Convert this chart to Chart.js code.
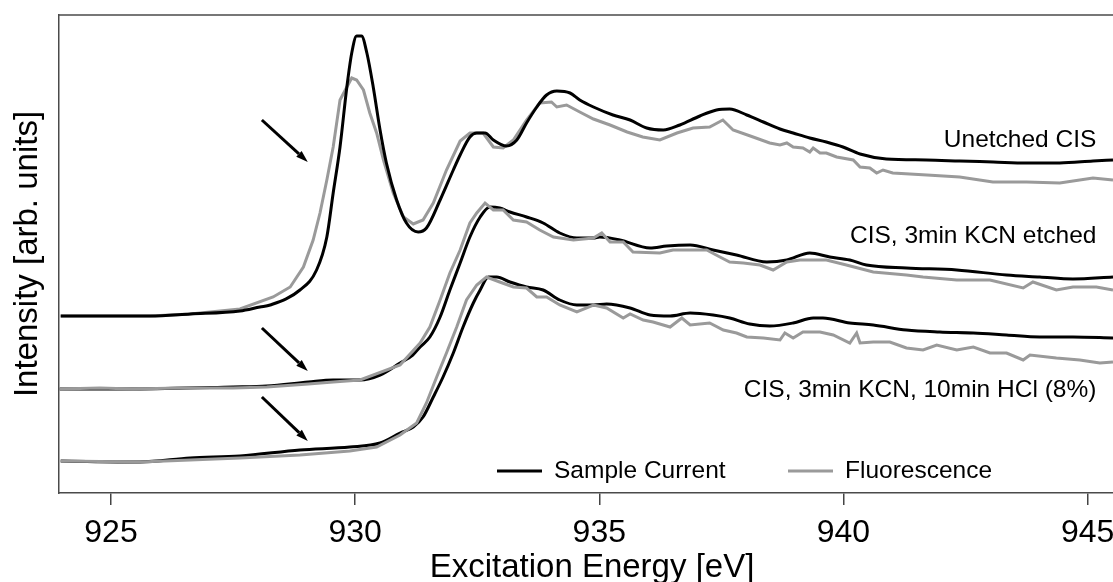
<!DOCTYPE html>
<html>
<head>
<meta charset="utf-8">
<title>Cu L3 edge XAS of CIS absorbers</title>
<script src="https://cdn.jsdelivr.net/npm/chart.js@4.4.1/dist/chart.umd.min.js"></script>
<style>
  html, body { margin: 0; padding: 0; background: #fff; }
  #wrap { width: 1113px; height: 582px; }
</style>
</head>
<body>
<div id="wrap"><canvas id="xasChart"></canvas></div>
<script>
// Excitation energy ticks (eV)
const energyTicks = [925, 930, 935, 940, 945];

// Unetched CIS - sample current
const unetchedScE = [923.97, 925.80, 926.62, 927.64, 928.05, 928.26, 928.87, 929.21, 929.42, 929.55,
  929.69, 929.83, 929.93, 930.03, 930.13, 930.24, 930.37, 930.51, 930.64, 930.85,
  931.05, 931.29, 931.46, 931.74, 932.01, 932.15, 932.35, 932.49, 932.66, 932.83,
  933.10, 933.31, 933.51, 933.72, 933.92, 934.13, 934.40, 934.60, 934.88, 935.28,
  935.63, 935.97, 936.31, 936.65, 937.06, 937.40, 937.67, 938.02, 938.36, 938.70,
  938.97, 939.31, 939.65, 939.99, 940.34, 940.88, 941.70, 942.38, 943.07, 943.75,
  944.43, 945.11, 945.52];
const unetchedSc = [1.77, 1.77, 1.79, 1.82, 1.86, 1.88, 2.03, 2.23, 2.56, 3.00,
  3.46, 4.06, 4.40, 4.57, 4.57, 4.40, 4.06, 3.63, 3.30, 2.93,
  2.70, 2.61, 2.65, 2.93, 3.23, 3.38, 3.56, 3.60, 3.60, 3.53,
  3.47, 3.53, 3.70, 3.86, 3.98, 4.02, 4.00, 3.93, 3.86, 3.78,
  3.73, 3.65, 3.63, 3.68, 3.77, 3.83, 3.84, 3.78, 3.71, 3.64,
  3.60, 3.55, 3.51, 3.46, 3.39, 3.34, 3.33, 3.32, 3.31, 3.30,
  3.30, 3.32, 3.33];

// Unetched CIS - fluorescence
const unetchedFlE = [923.97, 925.80, 926.62, 927.64, 928.32, 928.67, 928.94, 929.14, 929.28, 929.42,
  929.55, 929.69, 929.83, 929.93, 930.03, 930.17, 930.30, 930.44, 930.58, 930.78,
  930.99, 931.19, 931.39, 931.60, 931.87, 932.15, 932.35, 932.62, 932.83, 933.03,
  933.24, 933.51, 933.78, 934.02, 934.13, 934.33, 934.60, 934.88, 935.22, 935.57,
  935.89, 936.24, 936.59, 936.92, 937.26, 937.53, 937.74, 938.15, 938.49, 938.70,
  938.84, 938.97, 939.17, 939.31, 939.38, 939.52, 939.65, 939.86, 940.20, 940.34,
  940.54, 940.68, 940.81, 941.01, 941.71, 942.38, 943.06, 943.75, 944.43, 945.11,
  945.52];
const unetchedFl = [1.77, 1.77, 1.79, 1.84, 1.96, 2.06, 2.26, 2.53, 2.80, 3.13,
  3.46, 3.93, 4.06, 4.15, 4.13, 4.03, 3.80, 3.60, 3.33, 3.00,
  2.76, 2.69, 2.73, 2.90, 3.23, 3.52, 3.60, 3.60, 3.46, 3.45,
  3.53, 3.73, 3.90, 3.91, 3.86, 3.88, 3.81, 3.74, 3.68, 3.61,
  3.56, 3.53, 3.60, 3.65, 3.66, 3.73, 3.63, 3.56, 3.50, 3.48,
  3.50, 3.46, 3.45, 3.41, 3.45, 3.40, 3.40, 3.36, 3.33, 3.26,
  3.25, 3.20, 3.23, 3.20, 3.18, 3.16, 3.11, 3.11, 3.10, 3.15,
  3.13];

// CIS, 3min KCN etched - sample current
const kcnScE = [923.95, 925.45, 927.50, 928.19, 929.04, 929.55, 930.10, 930.51, 930.92, 931.18,
  931.33, 931.53, 931.74, 931.94, 932.15, 932.35, 932.56, 932.76, 932.96, 933.17,
  933.51, 933.85, 934.19, 934.54, 934.88, 935.01, 935.42, 936.04, 936.38, 936.86,
  937.33, 937.81, 938.43, 938.84, 939.31, 939.72, 940.13, 940.47, 941.29, 942.32,
  943.34, 944.02, 944.70, 945.52];
const kcnSc = [1.04, 1.04, 1.06, 1.07, 1.11, 1.13, 1.13, 1.18, 1.30, 1.38,
  1.46, 1.56, 1.76, 2.03, 2.30, 2.56, 2.76, 2.86, 2.85, 2.81,
  2.76, 2.70, 2.60, 2.55, 2.55, 2.56, 2.53, 2.45, 2.47, 2.48,
  2.43, 2.38, 2.31, 2.33, 2.40, 2.36, 2.33, 2.28, 2.25, 2.23,
  2.18, 2.16, 2.14, 2.16];

// CIS, 3min KCN etched - fluorescence
const kcnFlE = [923.95, 924.77, 925.45, 926.41, 927.50, 928.19, 929.04, 929.55, 930.10, 930.92,
  931.33, 931.53, 931.74, 931.94, 932.15, 932.35, 932.49, 932.66, 932.83, 933.03,
  933.24, 933.51, 933.78, 934.06, 934.47, 934.88, 935.05, 935.22, 935.49, 935.69,
  936.24, 936.51, 936.92, 937.20, 937.47, 937.67, 937.95, 938.29, 938.56, 938.84,
  939.11, 939.38, 939.65, 940.06, 940.61, 941.29, 941.63, 942.32, 943.00, 943.68,
  943.88, 944.36, 944.70, 945.18, 945.52];
const kcnFl = [1.04, 1.05, 1.04, 1.05, 1.05, 1.06, 1.09, 1.11, 1.13, 1.28,
  1.50, 1.66, 1.93, 2.20, 2.43, 2.70, 2.80, 2.90, 2.83, 2.83,
  2.73, 2.71, 2.63, 2.56, 2.53, 2.55, 2.60, 2.51, 2.51, 2.41,
  2.40, 2.43, 2.43, 2.43, 2.36, 2.31, 2.30, 2.28, 2.23, 2.31,
  2.33, 2.33, 2.33, 2.28, 2.21, 2.18, 2.16, 2.13, 2.13, 2.05,
  2.11, 2.03, 2.06, 2.06, 2.03];

// CIS, 3min KCN, 10min HCl (8%) - sample current
const hclScE = [923.97, 925.59, 926.62, 927.64, 928.87, 929.89, 930.51, 930.92, 931.19, 931.39,
  931.60, 931.80, 932.01, 932.21, 932.42, 932.56, 932.73, 932.90, 933.17, 933.51,
  933.85, 934.19, 934.54, 934.88, 935.15, 935.63, 936.04, 936.45, 936.86, 937.33,
  937.67, 938.08, 938.49, 938.97, 939.38, 939.58, 940.13, 940.61, 941.29, 941.97,
  942.66, 943.34, 944.02, 944.70, 945.52];
const hclSc = [0.32, 0.31, 0.35, 0.37, 0.43, 0.46, 0.50, 0.60, 0.66, 0.76,
  0.96, 1.16, 1.40, 1.66, 1.90, 2.03, 2.16, 2.16, 2.11, 2.06,
  2.03, 1.93, 1.88, 1.88, 1.89, 1.85, 1.78, 1.77, 1.80, 1.78,
  1.75, 1.69, 1.67, 1.70, 1.75, 1.75, 1.70, 1.68, 1.63, 1.61,
  1.60, 1.58, 1.56, 1.56, 1.55];

// CIS, 3min KCN, 10min HCl (8%) - fluorescence
const hclFlE = [923.97, 925.59, 926.62, 927.64, 928.87, 929.89, 930.44, 930.92, 931.26, 931.46,
  931.67, 931.87, 932.08, 932.28, 932.49, 932.69, 932.96, 933.24, 933.51, 933.72,
  933.92, 934.19, 934.54, 934.88, 935.15, 935.49, 935.63, 935.90, 936.10, 936.45,
  936.69, 936.86, 937.26, 937.54, 937.81, 938.02, 938.36, 938.70, 938.80, 938.97,
  939.17, 939.52, 939.79, 940.13, 940.27, 940.34, 940.61, 940.95, 941.29, 941.63,
  941.91, 942.32, 942.66, 943.00, 943.34, 943.68, 943.82, 944.36, 944.84, 945.25,
  945.52];
const hclFl = [0.32, 0.31, 0.33, 0.35, 0.38, 0.42, 0.46, 0.58, 0.70, 0.90,
  1.16, 1.40, 1.66, 1.93, 2.08, 2.16, 2.11, 2.06, 2.05, 1.96,
  1.96, 1.88, 1.81, 1.88, 1.85, 1.75, 1.79, 1.73, 1.71, 1.66,
  1.75, 1.68, 1.70, 1.63, 1.60, 1.56, 1.55, 1.53, 1.60, 1.55,
  1.61, 1.61, 1.58, 1.50, 1.60, 1.50, 1.51, 1.51, 1.45, 1.43,
  1.48, 1.43, 1.46, 1.40, 1.40, 1.33, 1.38, 1.35, 1.33, 1.30,
  1.31];

// sample names, written right-aligned above each pair of spectra
const sampleNames = ['Unetched CIS', 'CIS, 3min KCN etched', 'CIS, 3min KCN, 10min HCl (8%)'];
const sampleNameI = [3.46, 2.50, 0.96];
const sampleNameE = 945.18;

// arrows pointing at the pre-edge region
const arrowFromE = 928.09;
const arrowToE = 929.03;
const arrowFromI = [3.73, 1.65, 0.96];
const arrowToI = [3.31, 1.22, 0.52];

const FONT = '"Liberation Sans", Arial, Helvetica, sans-serif';
const SC_COLOR = '#000000';
const FL_COLOR = '#9a9a9a';
const FRAME_COLOR = '#4a4a4a';

const toPoints = (e, v) => e.map((x, i) => ({ x, y: v[i] }));

const scStyle = { borderColor: SC_COLOR, borderWidth: 3, cubicInterpolationMode: 'monotone' };
const flStyle = { borderColor: FL_COLOR, borderWidth: 3, tension: 0 };

const datasets = [
  { label: 'Sample Current', data: toPoints(unetchedScE, unetchedSc), order: 0, ...scStyle },
  { label: 'Fluorescence', data: toPoints(unetchedFlE, unetchedFl), order: 1, ...flStyle },
  { label: 'Sample Current', data: toPoints(kcnScE, kcnSc), order: 3, ...scStyle },
  { label: 'Fluorescence', data: toPoints(kcnFlE, kcnFl), order: 2, ...flStyle },
  { label: 'Sample Current', data: toPoints(hclScE, hclSc), order: 5, ...scStyle },
  { label: 'Fluorescence', data: toPoints(hclFlE, hclFl), order: 4, ...flStyle }
];

const drawArrow = (ctx, x0, y0, x1, y1) => {
  const ang = Math.atan2(y1 - y0, x1 - x0);
  const head = 12, half = 4;
  const bx = x1 - head * Math.cos(ang), by = y1 - head * Math.sin(ang);
  ctx.beginPath();
  ctx.moveTo(x0, y0);
  ctx.lineTo(bx, by);
  ctx.stroke();
  ctx.beginPath();
  ctx.moveTo(x1, y1);
  ctx.lineTo(bx + half * Math.sin(ang), by - half * Math.cos(ang));
  ctx.lineTo(bx - half * Math.sin(ang), by + half * Math.cos(ang));
  ctx.closePath();
  ctx.fill();
};

// frame top, arrows, sample names, legend and axis titles
const decorations = {
  id: 'decorations',
  afterDraw(chart) {
    const { ctx, chartArea: area, scales: { x, y } } = chart;
    ctx.save();

    ctx.strokeStyle = FRAME_COLOR;
    ctx.lineWidth = 1.5;
    ctx.beginPath();
    ctx.moveTo(area.left, area.top);
    ctx.lineTo(area.right, area.top);
    ctx.stroke();

    ctx.strokeStyle = '#000';
    ctx.fillStyle = '#000';
    ctx.lineWidth = 3;
    arrowFromI.forEach((i0, k) => {
      drawArrow(ctx, x.getPixelForValue(arrowFromE), y.getPixelForValue(i0),
        x.getPixelForValue(arrowToE), y.getPixelForValue(arrowToI[k]));
    });

    ctx.font = '24.5px ' + FONT;
    ctx.textAlign = 'right';
    ctx.textBaseline = 'alphabetic';
    sampleNames.forEach((name, k) => {
      ctx.fillText(name, x.getPixelForValue(sampleNameE), y.getPixelForValue(sampleNameI[k]));
    });

    // legend
    const legendY = area.bottom - 22;
    const entries = [
      { text: datasets[0].label, color: SC_COLOR, x: 497 },
      { text: datasets[1].label, color: FL_COLOR, x: 788 }
    ];
    ctx.textAlign = 'left';
    ctx.textBaseline = 'middle';
    entries.forEach(item => {
      ctx.strokeStyle = item.color;
      ctx.lineWidth = 3;
      ctx.beginPath();
      ctx.moveTo(item.x, legendY);
      ctx.lineTo(item.x + 45, legendY);
      ctx.stroke();
      ctx.fillStyle = '#000';
      ctx.fillText(item.text, item.x + 57, legendY);
    });

    // axis titles
    ctx.font = '33px ' + FONT;
    ctx.fillStyle = '#000';
    ctx.textAlign = 'center';
    ctx.textBaseline = 'alphabetic';
    ctx.fillText('Excitation Energy [eV]', (area.left + area.right) / 2 + 6, 577);
    ctx.translate(36.5, (area.top + area.bottom) / 2);
    ctx.rotate(-Math.PI / 2);
    ctx.fillText('Intensity [arb. units]', 0, 0);

    ctx.restore();
  }
};

new Chart(document.getElementById('xasChart'), {
  type: 'line',
  data: { datasets },
  options: {
    animation: false,
    responsive: true,
    maintainAspectRatio: false,
    layout: { padding: { top: 15, left: 0, right: 0, bottom: 0 } },
    elements: { point: { radius: 0 } },
    plugins: {
      legend: { display: false },
      tooltip: { enabled: false }
    },
    scales: {
      x: {
        type: 'linear',
        min: 923.935,
        max: 945.52,
        afterBuildTicks: s => { s.ticks = energyTicks.map(v => ({ value: v })); },
        afterFit: s => { s.height = 89; s.paddingLeft = 0; s.paddingRight = 0; },
        grid: {
          display: true,
          drawOnChartArea: false,
          drawTicks: true,
          tickLength: 12,
          color: '#444',
          tickColor: '#444',
          lineWidth: 1.5
        },
        border: { display: true, color: FRAME_COLOR, width: 1.5 },
        ticks: {
          color: '#000',
          font: { family: FONT, size: 32 },
          padding: 9,
          maxRotation: 0,
          autoSkip: false
        }
      },
      y: {
        min: 0,
        max: 4.78,
        afterFit: s => { s.width = 59; },
        ticks: { display: false },
        grid: { display: false },
        border: { display: true, color: FRAME_COLOR, width: 1.5 }
      }
    }
  },
  plugins: [decorations]
});
</script>
</body>
</html>
